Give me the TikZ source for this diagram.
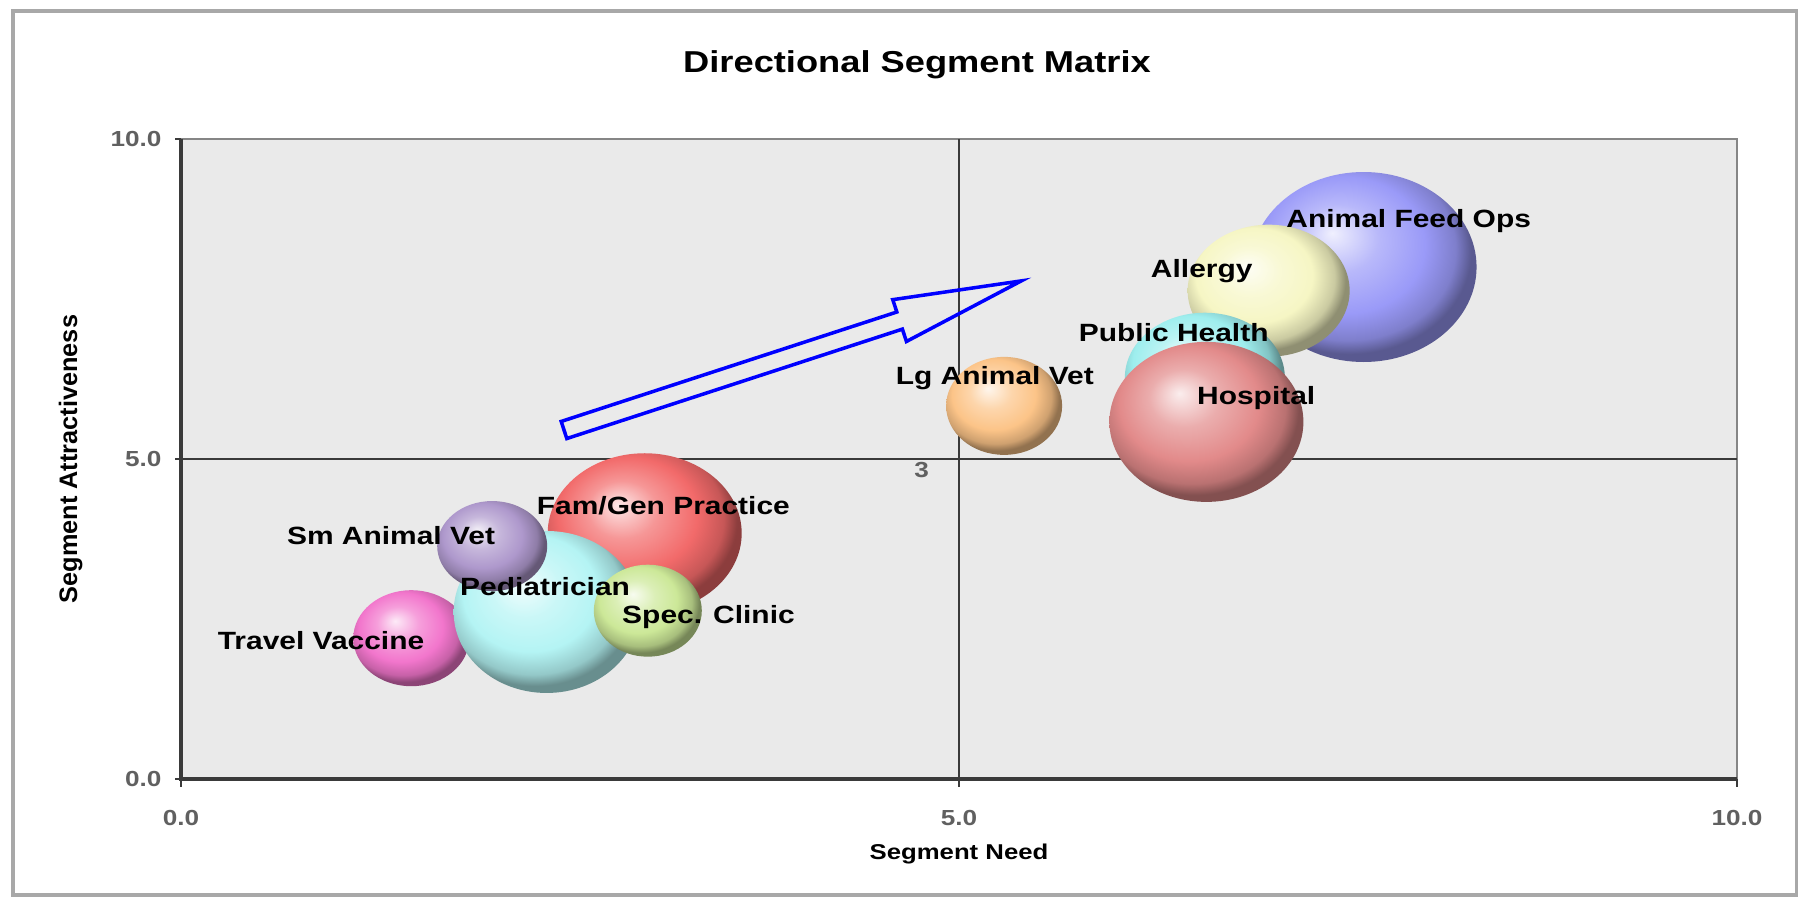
\documentclass[tikz,border=0pt]{standalone}
\usepackage{fontspec}
\setmainfont{Liberation Sans}
\usetikzlibrary{shapes.geometric,positioning}

\definecolor{plotbg}{HTML}{EAEAEA}
\definecolor{framegray}{HTML}{A8A8A8}
\definecolor{axisgray}{HTML}{3A3A3A}
\definecolor{tickgray}{HTML}{606060}
\definecolor{feedblue}{HTML}{9A9AF8}
\definecolor{allergyyellow}{HTML}{F6F6C4}
\definecolor{publiccyan}{HTML}{9EEEEE}
\definecolor{hospitalrose}{HTML}{E28A8A}
\definecolor{lgvetpeach}{HTML}{FCC488}
\definecolor{famgenred}{HTML}{F26A6A}
\definecolor{smvetlilac}{HTML}{AE98CC}
\definecolor{pedcyan}{HTML}{B4F4F4}
\definecolor{specgreen}{HTML}{CCE898}
\definecolor{travelpink}{HTML}{F276CC}
\colorlet{bubcol}{white}

% soft sphere look for the bubbles
\pgfdeclareradialshading[bubcol]{softball}{\pgfpoint{-7bp}{9bp}}{%
  color(0bp)=(bubcol!15!white); color(9bp)=(bubcol!70!white); color(18bp)=(bubcol);
  color(24bp)=(bubcol!82!black); color(27bp)=(bubcol!58!black); color(50bp)=(bubcol!58!black)}

\newcommand{\labelfont}{\fontsize{7.1}{8}\selectfont\bfseries}
\newcommand{\tickfont}{\fontsize{6.2}{7}\selectfont\bfseries}

\tikzset{
  bubble/.style={ellipse, inner sep=0pt, /utils/exec={\colorlet{bubcol}{#1}}, shade, shading=softball},
  seglabel/.style={font=\labelfont, xscale=1.2, inner sep=0pt},
  ticklabel/.style={font=\tickfont, text=tickgray, xscale=1.2, inner sep=0pt},
  axistitle/.style={font=\fontsize{6.1}{7}\selectfont\bfseries, xscale=1.2, inner sep=0pt}
}

\begin{document}
\begin{tikzpicture}
\useasboundingbox (0,0) rectangle (17.98,8.97);
\draw[framegray, line width=1.2pt] (0.13,0.02) rectangle (17.97,8.86);

\node[font=\fontsize{8.6}{10}\selectfont\bfseries, xscale=1.2, inner sep=0pt] (title) at (9.17,8.32) {Directional Segment Matrix};

% data frame: x 0..10, y 0..10
\begin{scope}[shift={(1.81,1.18)}, x=1.556cm, y=0.64cm]
    \fill[plotbg] (0,0) rectangle (10,10);
    \draw[framegray!80!black, line width=0.6pt] (0,10) -- (10,10) -- (10,0);
    \draw[axisgray, line width=0.6pt] (5,0) -- (5,10);
    \draw[axisgray, line width=0.6pt] (0,5) -- (10,5);
    \draw[axisgray, line width=1pt] (0,10) -- (0,0) -- (10,0);
    \foreach \t in {0,5,10} {
        \draw[axisgray, line width=0.6pt] (0,\t) -- ++(-0.04,0);
        \draw[axisgray, line width=0.6pt] (\t,0) -- ++(0,-0.12);
    }

    % bubbles, back to front
    \node[bubble=famgenred, minimum width=1.94cm, minimum height=1.60cm] (famgen) at (2.98,3.84) {};
    \node[bubble=travelpink, minimum width=1.16cm, minimum height=0.96cm] (travel) at (1.48,2.20) {};
    \node[bubble=pedcyan, minimum width=1.86cm, minimum height=1.62cm] (pediatric) at (2.35,2.61) {};
    \node[bubble=smvetlilac, minimum width=1.10cm, minimum height=0.90cm] (smvet) at (2.00,3.64) {};
    \node[bubble=specgreen, minimum width=1.08cm, minimum height=0.92cm] (specclinic) at (3.00,2.63) {};
    \node[bubble=feedblue, minimum width=2.26cm, minimum height=1.90cm] (feedops) at (7.60,8.00) {};
    \node[bubble=allergyyellow, minimum width=1.62cm, minimum height=1.32cm] (allergy) at (6.99,7.63) {};
    \node[bubble=publiccyan, minimum width=1.60cm, minimum height=1.30cm] (pubhealth) at (6.58,6.27) {};
    \node[bubble=hospitalrose, minimum width=1.94cm, minimum height=1.60cm] (hospital) at (6.59,5.58) {};
    \node[bubble=lgvetpeach, minimum width=1.16cm, minimum height=0.98cm] (lgvet) at (5.29,5.83) {};

    % bubble labels
    \node[seglabel] (feedopslbl) at (7.89,8.72) {Animal Feed Ops};
    \node[seglabel] (allergylbl) at (6.56,7.94) {Allergy};
    \node[seglabel] (pubhealthlbl) at (6.38,6.97) {Public Health};
    \node[seglabel] (lgvetlbl) at (5.23,6.26) {Lg Animal Vet};
    \node[seglabel] (hospitallbl) at (6.91,5.95) {Hospital};
    \node[seglabel] (famgenlbl) at (3.10,4.27) {Fam/Gen Practice};
    \node[seglabel] (smvetlbl) at (1.35,3.81) {Sm Animal Vet};
    \node[seglabel] (pediatriclbl) at (2.34,3.00) {Pediatrician};
    \node[seglabel] (specclinillbl) at (3.39,2.53) {Spec. Clinic};
    \node[seglabel] (travellbl) at (0.90,2.16) {Travel Vaccine};
    \node[ticklabel] (three) at (4.76,4.83) {3};

    % axis numbers
    \foreach \t in {0,5,10} {
        \node[ticklabel, anchor=east] (y\t) at (-0.12,\t) {\t.0};
        \node[ticklabel] (x\t) at (\t,-0.61) {\t.0};
    }
    \node[axistitle] (xtitle) at (5,-1.17) {Segment Need};
    \node[font=\fontsize{7.2}{8}\selectfont\bfseries, rotate=90, inner sep=0pt] (ytitle) at (-0.71,5) {Segment Attractiveness};
\end{scope}

% direction arrow
\coordinate (tail) at (5.64,4.67);
\begin{scope}[shift={(tail)}, rotate=18.06]
    \draw[blue, line width=1pt, line join=miter] (0,0.09) -- (3.53,0.09) -- (3.53,0.22) -- (4.81,0)
        -- (3.53,-0.22) -- (3.53,-0.09) -- (0,-0.09) -- cycle;
\end{scope}
\end{tikzpicture}
\end{document}
